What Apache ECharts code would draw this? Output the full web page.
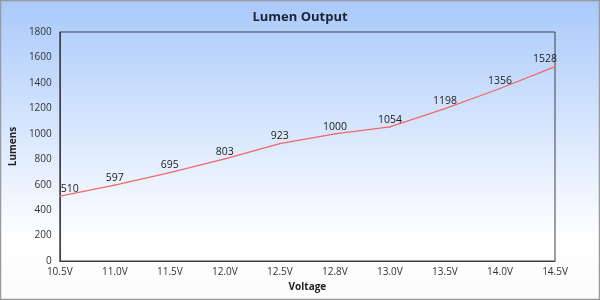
<!DOCTYPE html>
<html><head><meta charset="utf-8">
<script src="https://cdn.jsdelivr.net/npm/echarts@6/dist/echarts.min.js"></script>
<style>html,body{margin:0;padding:0;}#c{width:600px;height:300px;}</style>
</head><body><div id="c"></div>
<script>
const categories = ['10.5V','11.0V','11.5V','12.0V','12.5V','12.8V','13.0V','13.5V','14.0V','14.5V'];
const lumens = [510,597,695,803,923,1000,1054,1198,1356,1528];
const yTicks = [0,200,400,600,800,1000,1200,1400,1600,1800];

const chart = echarts.init(document.getElementById('c'));
const last = lumens.length - 1;
const seriesData = lumens.map((v, i) => {
  const d = {value: v};
  if (i === 0) d.label = {offset: [10, 0]};
  if (i === last) d.label = {offset: [-10, 0]};
  return d;
});
chart.setOption({
  animation: false,
  backgroundColor: {type:'linear', x:0, y:0, x2:0, y2:1, colorStops:[
    {offset:0, color:'#a9c9fb'}, {offset:0.8, color:'#ffffff'}, {offset:1, color:'#fbfbfb'}]},
  graphic: [{type:'rect', shape:{x:0.5, y:0.5, width:599, height:299}, style:{fill:'none', stroke:'#9a9a9a', lineWidth:1.5}, silent:true}],
  title: {text:'Lumen Output', left:'center', top:6, textStyle:{fontFamily:'Open Sans', fontSize:13, fontWeight:'bold', color:'#1a2533'}},
  grid: {left:50, right:45, top:32, bottom:39, show:true, borderColor:'#404040', borderWidth:1, backgroundColor:'transparent'},
  xAxis: {type:'category', data:categories, boundaryGap:false,
    name:'Voltage', nameLocation:'middle', nameGap:20,
    nameTextStyle:{fontFamily:'Open Sans', fontSize:10, fontWeight:'bold', color:'#222'},
    axisLine:{lineStyle:{color:'#404040'}}, axisTick:{show:false},
    axisLabel:{fontFamily:'Open Sans', fontSize:10, color:'#333', margin:6}, splitLine:{show:false}},
  yAxis: {type:'value', min:yTicks[0], max:yTicks[yTicks.length-1], interval:200,
    name:'Lumens', nameLocation:'middle', nameGap:36,
    nameTextStyle:{fontFamily:'Open Sans', fontSize:10, fontWeight:'bold', color:'#222'},
    axisLine:{show:true, lineStyle:{color:'#404040'}}, axisTick:{show:false},
    axisLabel:{fontFamily:'Open Sans', fontSize:10, color:'#333', margin:8, formatter: v => String(v)}, splitLine:{show:false}},
  series: [{type:'line', data:seriesData, symbol:'circle', symbolSize:1.5, showSymbol:true,
    showAllSymbol:true,
    itemStyle:{color:'#f26868'},
    lineStyle:{color:'#f26868', width:1.3},
    label:{show:true, position:'top', distance:1, fontFamily:'Open Sans', fontSize:10.5, color:'#222'}}]
});
</script></body></html>
